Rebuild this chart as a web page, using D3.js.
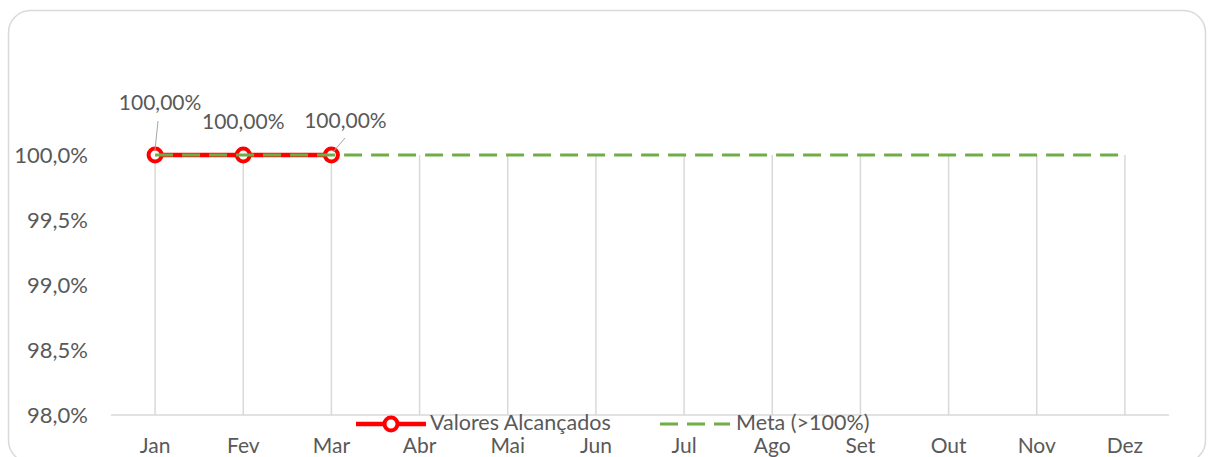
<!DOCTYPE html>
<html><head><meta charset="utf-8">
<script src="https://cdn.jsdelivr.net/npm/d3@7"></script>
<style>body{margin:0;background:#fff;}svg{display:block;font-family:Lato,"Liberation Sans",sans-serif;}</style>
</head><body>
<svg id="c" width="1208" height="457"></svg>
<script>
const months = ["Jan","Fev","Mar","Abr","Mai","Jun","Jul","Ago","Set","Out","Nov","Dez"];
const achieved = [100, 100, 100];
const target = [100,100,100,100,100,100,100,100,100,100,100,100];
const yTicks = [98.0, 98.5, 99.0, 99.5, 100.0];
const seriesNames = ["Valores Alcançados", "Meta (>100%)"];

const svg = d3.select("#c");
const textCol = "#595959";
svg.append("rect").attr("x",8.5).attr("y",10.5).attr("width",1197).attr("height",452)
  .attr("rx",22).attr("fill","#fff").attr("stroke","#d9d9d9").attr("stroke-width",1.5);

const x = d3.scaleBand().domain(months).range([111,1169]);
const y = d3.scaleLinear().domain([98,100]).range([415,155]);
const cx = m => x(m) + x.bandwidth()/2;

// vertical gridlines
svg.append("g").selectAll("line").data(months).join("line")
  .attr("x1",cx).attr("x2",cx).attr("y1",y(100)).attr("y2",y(98))
  .attr("stroke","#d9d9d9").attr("stroke-width",1.5);
// x axis line
svg.append("line").attr("x1",111).attr("x2",1169).attr("y1",y(98)).attr("y2",y(98))
  .attr("stroke","#d9d9d9").attr("stroke-width",1.5);

// y labels
const fmt = v => v.toFixed(1).replace(".",",") + "%";
svg.append("g").selectAll("text").data(yTicks).join("text")
  .attr("x",88).attr("y",d=>y(d)).attr("dy","0.35em").attr("text-anchor","end")
  .attr("fill",textCol).attr("font-size",22).text(fmt);
// x labels
svg.append("g").selectAll("text").data(months).join("text")
  .attr("x",cx).attr("y",453).attr("text-anchor","middle")
  .attr("fill",textCol).attr("font-size",21).text(d=>d);

const line = d3.line().x((d,i)=>cx(months[i])).y(d=>y(d));
// achieved
svg.append("path").datum(achieved).attr("d",line).attr("fill","none")
  .attr("stroke","#ff0000").attr("stroke-width",4.5);
svg.append("g").selectAll("circle").data(achieved).join("circle")
  .attr("cx",(d,i)=>cx(months[i])).attr("cy",d=>y(d)).attr("r",6.5)
  .attr("fill","#fff").attr("stroke","#ff0000").attr("stroke-width",4);
// target
svg.append("path").datum(target).attr("d",line).attr("fill","none")
  .attr("stroke","#70ad47").attr("stroke-width",3).attr("stroke-dasharray","18,9");

// data labels
const labelPos = [{dx:5,dy:-45,lead:[[158,121],[155,150]]},{dx:0,dy:-26,lead:null},{dx:14,dy:-27,lead:[[345,138],[333,152]]}];
achieved.forEach((v,i)=>{
  const p = labelPos[i];
  svg.append("text").attr("x",cx(months[i])+p.dx).attr("y",y(v)+p.dy).attr("text-anchor","middle")
    .attr("fill",textCol).attr("font-size",21).text(v.toFixed(2).replace(".",",")+"%");
  if(p.lead) svg.append("line").attr("x1",p.lead[0][0]).attr("y1",p.lead[0][1]).attr("x2",p.lead[1][0]).attr("y2",p.lead[1][1])
    .attr("stroke","#a6a6a6").attr("stroke-width",1);
});

// legend
const lg = svg.append("g");
lg.append("line").attr("x1",356).attr("x2",426).attr("y1",424).attr("y2",424).attr("stroke","#ff0000").attr("stroke-width",4.5);
lg.append("circle").attr("cx",391).attr("cy",424).attr("r",6.5).attr("fill","#fff").attr("stroke","#ff0000").attr("stroke-width",4);
lg.append("text").attr("x",430).attr("y",430).attr("fill",textCol).attr("font-size",21.5).text(seriesNames[0]);
lg.append("line").attr("x1",660).attr("x2",730).attr("y1",424).attr("y2",424).attr("stroke","#70ad47").attr("stroke-width",3).attr("stroke-dasharray","18,9");
lg.append("text").attr("x",736).attr("y",430).attr("fill",textCol).attr("font-size",21.5).text(seriesNames[1]);
</script>
</body></html>
